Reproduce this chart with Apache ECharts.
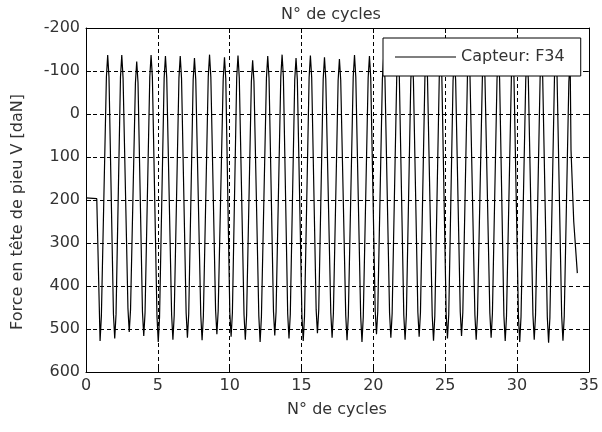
<!DOCTYPE html>
<html>
<head>
<meta charset="utf-8">
<script src="https://cdn.jsdelivr.net/npm/echarts@6/dist/echarts.min.js"></script>
<style>html,body{margin:0;padding:0;background:#fff;}#c{width:602px;height:432px;}</style>
</head>
<body>
<div id="c"></div>
<script>
// Data
const startX = [0, 0.75];
const startY = [195, 197];
const troughX = [0.98, 2.00, 3.01, 4.02, 5.03, 6.05, 7.06, 8.08, 9.11, 10.10, 11.09, 12.12, 13.14, 14.13, 15.12, 16.11, 17.13, 18.17, 19.21, 20.22, 21.22, 22.21, 23.19, 24.19, 25.16, 26.14, 27.16, 28.20, 29.18, 30.19, 31.20, 32.20, 33.20];
const troughY = [528, 522, 507, 516, 530, 525, 520, 526, 512, 518, 525, 530, 515, 522, 528, 510, 520, 526, 530, 512, 520, 525, 518, 527, 522, 516, 525, 520, 528, 530, 525, 532, 527];
const riseLoX = [1.07, 2.09, 3.10, 4.11, 5.12, 6.14, 7.15, 8.17, 9.20, 10.19, 11.18, 12.21, 13.23, 14.22, 15.21, 16.20, 17.22, 18.26, 19.30, 20.31, 21.31, 22.30, 23.28, 24.28, 25.25, 26.23, 27.25, 28.29, 29.27, 30.28, 31.29, 32.29, 33.29];
const riseLoY = [470, 466, 455, 462, 472, 468, 465, 470, 458, 463, 468, 472, 460, 466, 470, 456, 464, 469, 472, 458, 464, 468, 462, 470, 466, 461, 468, 464, 470, 472, 468, 474, 470];
const riseHiX = [1.42, 2.40, 3.44, 4.44, 5.44, 6.47, 7.46, 8.51, 9.55, 10.49, 11.51, 12.56, 13.56, 14.53, 15.53, 16.51, 17.55, 18.60, 19.64, 20.63, 21.63, 22.61, 23.59, 24.59, 25.55, 26.55, 27.59, 28.61, 29.61, 30.61, 31.61, 32.61, 33.61];
const riseHiY = [-86, -86, -72, -86, -84, -84, -80, -87, -81, -85, -75, -84, -87, -80, -85, -81, -78, -86, -84, -81, -87, -80, -84, -85, -78, -86, -84, -81, -85, -80, -84, -86, -75];
const peakX = [1.51, 2.49, 3.53, 4.53, 5.53, 6.56, 7.55, 8.60, 9.64, 10.58, 11.60, 12.65, 13.65, 14.62, 15.62, 16.60, 17.64, 18.69, 19.73, 20.72, 21.72, 22.70, 23.68, 24.68, 25.64, 26.64, 27.68, 28.70, 29.70, 30.70, 31.70, 32.70, 33.70];
const peakY = [-137, -137, -122, -137, -135, -135, -130, -138, -132, -136, -125, -135, -138, -130, -136, -132, -128, -137, -135, -132, -138, -130, -135, -136, -128, -137, -135, -132, -136, -130, -135, -137, -125];
const fallHiX = [1.60, 2.58, 3.62, 4.62, 5.62, 6.65, 7.64, 8.69, 9.73, 10.67, 11.69, 12.74, 13.74, 14.71, 15.71, 16.69, 17.73, 18.78, 19.82, 20.81, 21.81, 22.79, 23.77, 24.77, 25.73, 26.73, 27.77, 28.79, 29.79, 30.79, 31.79, 32.79];
const fallHiY = [-86, -84, -74, -86, -84, -83, -80, -86, -82, -84, -76, -84, -86, -80, -85, -82, -79, -86, -84, -82, -86, -80, -84, -85, -79, -86, -84, -82, -85, -80, -84, -86];
const fallLoX = [1.91, 2.92, 3.93, 4.94, 5.96, 6.97, 7.99, 9.02, 10.01, 11.00, 12.03, 13.05, 14.04, 15.03, 16.02, 17.04, 18.08, 19.12, 20.13, 21.13, 22.12, 23.10, 24.10, 25.07, 26.05, 27.07, 28.11, 29.09, 30.10, 31.11, 32.11, 33.11];
const fallLoY = [465, 452, 460, 470, 467, 463, 468, 456, 461, 467, 470, 459, 465, 469, 455, 463, 468, 470, 457, 463, 467, 461, 469, 465, 460, 467, 463, 469, 470, 467, 472, 469];
const endX = [33.76, 33.95, 34.2];
const endY = [84, 250, 370];
const xTicks = [0, 5, 10, 15, 20, 25, 30, 35];
const yTicks = [-200, -100, 0, 100, 200, 300, 400, 500, 600];
const seriesName = 'Capteur: F34';
const titleText = 'N° de cycles';
const xLabel = 'N° de cycles';
const yLabel = 'Force en tête de pieu V [daN]';

const data = [];
for (let i = 0; i < startX.length; i++) data.push([startX[i], startY[i]]);
for (let i = 0; i < troughX.length; i++) {
  data.push([troughX[i], troughY[i]]);
  data.push([riseLoX[i], riseLoY[i]]);
  data.push([riseHiX[i], riseHiY[i]]);
  data.push([peakX[i], peakY[i]]);
  if (i < fallHiX.length) {
    data.push([fallHiX[i], fallHiY[i]]);
    data.push([fallLoX[i], fallLoY[i]]);
  }
}
for (let i = 0; i < endX.length; i++) data.push([endX[i], endY[i]]);

const FONT = 'DejaVu Sans';
const FS = 16;
const TXT = '#333';
const frame = { show: true, onZero: false, lineStyle: { color: '#000', width: 1 } };
const tick = { show: true, inside: true, length: 5, lineStyle: { color: '#000', width: 1 } };
const grid = { show: true, lineStyle: { color: '#000', width: 1, type: [4, 3] } };

const chart = echarts.init(document.getElementById('c'), null, { renderer: 'canvas' });
chart.setOption({
  animation: false,
  backgroundColor: '#fff',
  grid: { left: 86, right: 13, top: 28, bottom: 60, containLabel: false },
  legend: {
    show: true,
    data: [{ name: seriesName, icon: 'rect' }],
    left: 383, top: 38,
    padding: [11, 16, 11, 12],
    itemWidth: 61, itemHeight: 1, itemGap: 5,
    backgroundColor: '#fff', borderColor: '#000', borderWidth: 1,
    itemStyle: { color: '#000' },
    textStyle: { fontFamily: FONT, fontSize: FS, color: TXT }
  },
  xAxis: [
    { type: 'value', min: xTicks[0], max: xTicks[xTicks.length - 1], interval: xTicks[1] - xTicks[0], position: 'bottom',
      axisLine: frame, axisTick: tick, splitLine: grid,
      axisLabel: { fontFamily: FONT, fontSize: FS, color: TXT, margin: 6 } },
    { type: 'value', min: xTicks[0], max: xTicks[xTicks.length - 1], interval: xTicks[1] - xTicks[0], position: 'top',
      axisLine: frame, axisTick: tick, splitLine: { show: false }, axisLabel: { show: false } }
  ],
  yAxis: [
    { type: 'value', inverse: true, min: yTicks[0], max: yTicks[yTicks.length - 1], interval: yTicks[1] - yTicks[0], position: 'left',
      axisLine: frame, axisTick: tick, splitLine: grid,
      axisLabel: { fontFamily: FONT, fontSize: FS, color: TXT, margin: 6 } },
    { type: 'value', inverse: true, min: yTicks[0], max: yTicks[yTicks.length - 1], interval: yTicks[1] - yTicks[0], position: 'right',
      axisLine: frame, axisTick: tick, splitLine: { show: false }, axisLabel: { show: false } }
  ],
  graphic: [
    { type: 'text', style: { text: titleText, font: FS + 'px "' + FONT + '"', fill: TXT, textAlign: 'center', textVerticalAlign: 'middle', x: 331, y: 15 } },
    { type: 'text', style: { text: xLabel, font: FS + 'px "' + FONT + '"', fill: TXT, textAlign: 'center', textVerticalAlign: 'middle', x: 337, y: 410 } },
    { type: 'text', x: 18, y: 212, rotation: Math.PI / 2, style: { text: yLabel, font: FS + 'px "' + FONT + '"', fill: TXT, textAlign: 'center', textVerticalAlign: 'middle', x: 0, y: 0 } }
  ],
  series: [
    { name: seriesName, type: 'line', xAxisIndex: 0, yAxisIndex: 0, data: data, symbol: 'none', showSymbol: false,
      lineStyle: { color: '#000', width: 1.2 }, itemStyle: { color: '#000' } }
  ]
});
</script>
</body>
</html>
